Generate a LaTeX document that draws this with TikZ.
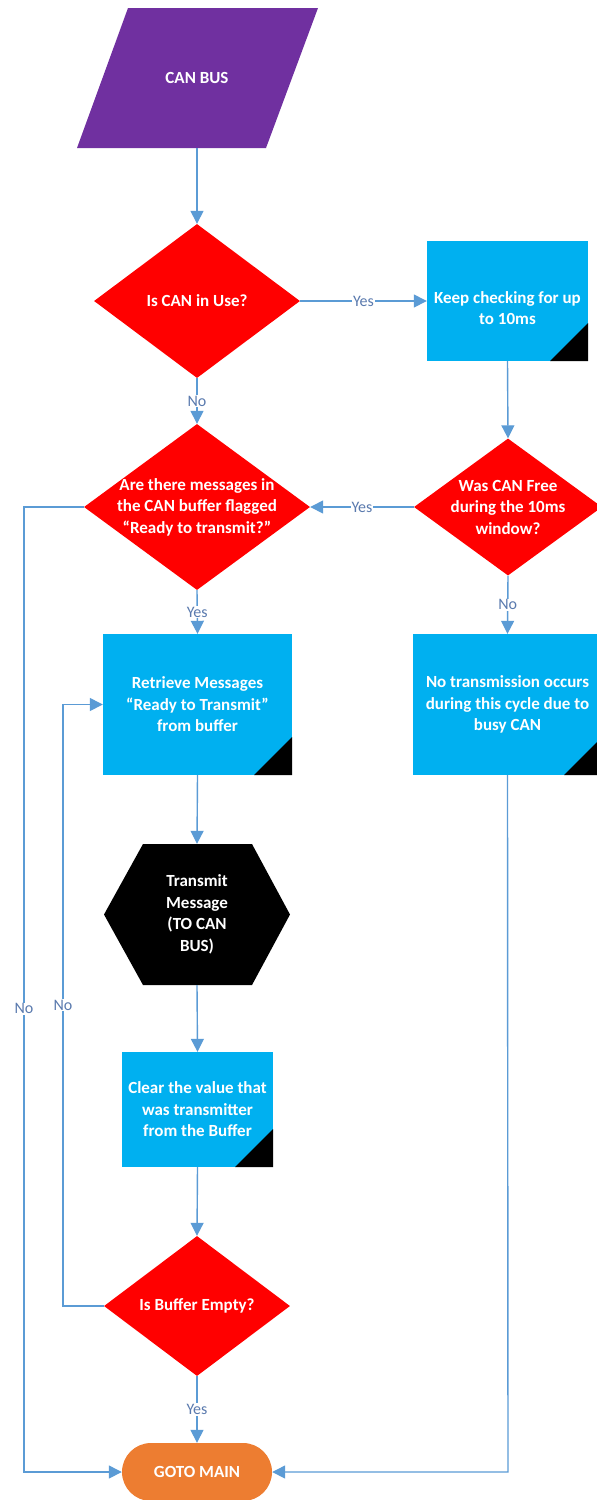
\documentclass[tikz,border=0pt]{standalone}
\usepackage{fontspec}
\setmainfont{Carlito}
\usetikzlibrary{shapes.geometric,arrows.meta,calc}
\definecolor{busviolet}{HTML}{7030A0}
\definecolor{decred}{HTML}{FF0000}
\definecolor{procblue}{HTML}{00B0F0}
\definecolor{endorange}{HTML}{ED7D31}
\definecolor{flowline}{HTML}{5B9BD5}
\definecolor{lbltext}{HTML}{5A7AAE}
\tikzset{
  txt/.style={text=white, font=\fontsize{17}{21.5}\selectfont\bfseries, align=center, inner sep=0pt},
  dia/.style={diamond, fill=decred, inner sep=0pt},
  procbox/.style={rectangle, fill=procblue, inner sep=0pt,
    path picture={\fill[black] (path picture bounding box.south east) -- ++(-38,0) -- ++(38,-38) -- cycle;}},
  conn/.style={draw=flowline, line width=1.4pt, -{Triangle[length=13pt,width=13pt]}},
  lbl/.style={fill=white, text=lbltext, font=\fontsize{16}{18}\selectfont, inner sep=1pt}
}
\begin{document}
\begin{tikzpicture}[x=1pt,y=-1pt]
\useasboundingbox (0,0) rectangle (597,1500);

% input parallelogram
\fill[busviolet] (128,8) -- (318,8) -- (266,148) -- (77,148) -- cycle;
\node[txt, minimum width=150, minimum height=140] (bus) at (197,78) {CAN BUS};

% decisions
\node[dia, minimum width=206, minimum height=154] (d1) at (197,301) {};
\node[txt] (d1t) at (d1) {Is CAN in Use?};

\node[dia, minimum width=188, minimum height=137] (d2) at (508,507) {};
\node[txt] (d2t) at (d2) {Was CAN Free\\during the 10ms\\window?};

\node[dia, minimum width=226, minimum height=166] (d3) at (197,507) {};
\node[txt] (d3t) at (d3) {Are there messages in\\the CAN buffer flagged\\“Ready to transmit?”};

\node[dia, minimum width=186, minimum height=140] (d4) at (197,1306) {};
\node[txt] (d4t) at (d4) {Is Buffer Empty?};

% processes
\node[procbox, minimum width=161, minimum height=120] (p1) at (507.5,301) {};
\node[txt] (p1t) at (507.5,308) {Keep checking for up\\to 10ms};

\node[procbox, minimum width=189, minimum height=141] (p2) at (197.5,704.5) {};
\node[txt] (p2t) at (197.5,704.5) {Retrieve Messages\\“Ready to Transmit”\\from buffer};

\node[procbox, minimum width=189, minimum height=141] (p3) at (507.5,704.5) {};
\node[txt] (p3t) at (507.5,704.5) {No transmission occurs\\during this cycle due to\\busy CAN};

\node[procbox, minimum width=151, minimum height=115] (p4) at (197.5,1109.5) {};
\node[txt] (p4t) at (197.5,1109.5) {Clear the value that\\was transmitter\\from the Buffer};

% hexagon
\fill[black] (104,914.5) -- (143,844) -- (252,844) -- (290,914.5) -- (252,985) -- (143,985) -- cycle;
\node[minimum width=186, minimum height=141, inner sep=0pt] (hx) at (197,914.5) {};
\node[txt] (hxt) at (hx) {Transmit\\Message\\(TO CAN\\BUS)};

% terminator
\node[fill=endorange, rounded corners=29pt, minimum width=150, minimum height=58, inner sep=0pt] (gm) at (197,1472) {};
\node[txt] (gmt) at (gm) {GOTO MAIN};

% connectors
\draw[conn] (bus.south) -- (d1.north);
\draw[conn] (d1.east) -- node[lbl]{Yes} (p1.west);
\draw[conn] (d1.south) -- node[lbl]{No} (d3.north);
\draw[conn] (p1.south) -- (d2.north);
\draw[conn] (d2.west) -- node[lbl]{Yes} (d3.east);
\draw[conn] (d2.south) -- node[lbl]{No} (p3.north);
\draw[conn] (d3.south) -- node[lbl]{Yes} (p2.north);
\draw[conn] (p2.south) -- (hx.north);
\draw[conn] (hx.south) -- (p4.north);
\draw[conn] (p4.south) -- (d4.north);
\draw[conn] (d4.south) -- node[lbl]{Yes} (gm.north);

\coordinate (oa) at (24,507);
\coordinate (ob) at (24,1472);
\draw[conn] (d3.west) -- (oa) -- node[lbl, pos=0.52]{No} (ob) -- (gm.west);

\coordinate (ia) at (63,1306);
\coordinate (ib) at (63,704.5);
\draw[conn] (d4.west) -- (ia) -- node[lbl, pos=0.5]{No} (ib) -- (p2.west);

\coordinate (ra) at (508,1472);
\draw[conn] (p3.south) -- (ra) -- (gm.east);
\end{tikzpicture}
\end{document}
